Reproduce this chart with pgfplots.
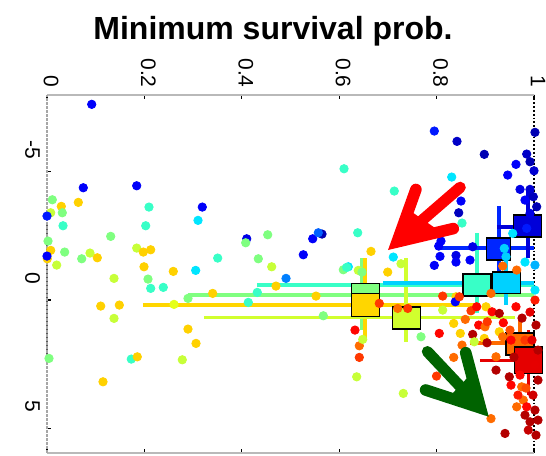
\documentclass[border=0pt]{standalone}
\usepackage{fontspec}
\setmainfont{Liberation Sans}
\usepackage{pgfplots}
\pgfplotsset{compat=1.18}
\usepackage{pgfplotstable}

\pgfplotstableread{
x y c
0.0918 -7.606 0.12
0.0745 -4.365 0.12
0.1842 -4.442 0.12
0.0109 -3.898 0.50
0.0294 -3.642 0.67
0.0643 -3.797 0.67
0.2094 -3.614 0.43
0.3189 -3.614 0.12
0.0076 -3.393 0.57
0.0314 -3.393 0.50
0.0000 -3.265 0.15
0.0329 -2.888 0.43
0.2027 -2.888 0.43
0.3101 -3.098 0.35
0.1308 -2.476 0.50
0.0021 -2.293 0.50
0.0076 -1.932 0.67
0.0363 -1.866 0.50
0.0883 -1.827 0.57
0.1033 -1.644 0.67
0.0713 -1.605 0.50
0.1842 -2.021 0.57
0.1977 -1.866 0.67
0.2129 -1.955 0.67
0.0006 -1.605 0.67
0.0000 -1.710 0.12
0.0199 -1.360 0.57
0.1992 -1.294 0.67
0.2593 -1.115 0.67
0.3053 -1.154 0.35
0.1376 -0.843 0.57
0.2074 -0.816 0.50
0.2129 -0.455 0.43
0.2388 -0.494 0.43
0.1103 0.233 0.67
0.1485 0.194 0.67
0.1376 0.711 0.57
0.2895 -0.066 0.50
0.2608 0.167 0.60
0.2895 1.127 0.67
0.3060 1.683 0.67
0.0041 2.266 0.50
0.1731 2.293 0.43
0.1854 2.204 0.67
0.2778 2.320 0.57
0.1150 3.175 0.67
0.6099 -5.103 0.43
0.4101 -2.382 0.10
0.4080 -2.227 0.50
0.4532 -2.538 0.50
0.5456 -2.382 0.12
0.5647 -2.565 0.05
0.5571 -2.616 0.22
0.5263 -1.761 0.12
0.3505 -1.632 0.43
0.4339 -1.605 0.50
0.4614 -1.294 0.57
0.6380 -2.616 0.43
0.6187 -1.294 0.35
0.6084 -1.178 0.50
0.6392 -1.154 0.57
0.4908 -0.843 0.25
0.4702 -0.544 0.67
0.3402 -0.260 0.67
0.4318 -0.299 0.43
0.5524 -0.155 0.67
0.4133 0.089 0.43
0.5674 0.610 0.50
0.6324 1.166 0.87
0.6413 1.776 0.77
0.6413 2.227 0.82
0.6359 2.981 0.57
0.6483 1.527 0.57
0.7953 -6.568 0.15
0.8419 -6.168 0.07
0.8979 -5.663 0.05
0.8310 -4.780 0.35
0.7131 -4.236 0.43
0.8501 -3.848 0.12
0.8454 -3.393 0.06
0.8522 -2.993 0.43
0.6653 -1.893 0.67
0.7111 -1.671 0.35
0.7269 -1.411 0.57
0.6996 -1.088 0.67
0.8070 -1.698 0.12
0.8398 -1.737 0.10
0.8398 -1.477 0.12
0.7953 -1.349 0.12
0.8090 -2.293 0.12
0.8043 -2.099 0.12
0.8741 -2.072 0.10
0.8686 -1.555 0.12
0.6468 -1.088 0.50
0.6154 -1.271 0.43
1.0020 -6.518 0.05
0.9850 -5.674 0.07
0.9918 -5.375 0.05
1.0000 -5.025 0.08
0.9630 -5.274 0.12
0.9460 -4.858 0.12
0.9713 -4.302 0.10
0.9918 -4.302 0.08
0.9986 -4.015 0.06
0.9815 -3.886 0.12
1.0055 -3.626 0.05
0.9918 -3.370 0.10
0.9850 -2.787 0.15
0.9390 -2.009 0.33
0.9425 -1.683 0.33
0.9563 -2.592 0.35
0.9357 -1.321 0.77
0.9117 -0.260 0.77
1.0020 -1.360 0.30
0.9815 -1.477 0.35
0.9645 -1.166 0.77
1.0020 -0.389 0.35
0.6823 0.128 0.82
0.7201 0.323 0.77
0.7407 0.323 0.82
0.8125 -0.155 0.82
0.8398 -0.128 0.67
0.8384 0.066 0.12
0.9014 0.260 0.67
0.7680 1.426 0.50
0.8055 1.294 0.87
0.7316 3.626 0.57
0.8351 0.906 0.67
0.8487 1.294 0.67
0.8741 1.333 0.95
0.8864 0.972 0.87
0.8589 0.750 0.77
0.8706 0.416 0.82
0.9138 0.455 0.87
0.9287 0.517 0.95
0.8979 1.489 0.67
0.9035 1.660 0.95
0.8774 1.621 0.57
0.8351 2.227 0.77
0.8522 1.749 0.77
0.7998 2.954 0.82
0.9220 2.721 0.95
0.9493 2.981 0.95
0.9117 4.605 0.77
0.9405 5.181 0.95
0.9528 3.304 0.87
0.9220 2.204 0.77
0.9589 2.215 0.95
0.9287 1.232 0.67
0.8994 1.038 0.77
0.9041 0.843 0.82
0.9370 0.882 0.87
0.9815 1.555 0.82
0.9747 3.370 0.77
0.9780 3.886 0.77
0.9815 4.469 0.95
0.9918 4.730 0.95
0.9883 5.052 0.93
0.9713 2.915 0.87
0.9850 4.147 0.87
0.9645 4.147 0.77
0.8823 0.260 0.87
0.8125 0.389 0.57
0.9630 0.260 0.87
0.9357 1.426 0.77
0.9528 1.555 0.87
0.8466 -0.128 0.82
0.9918 0.466 0.90
1.0041 0.972 0.95
0.9959 1.555 0.90
1.0082 1.943 0.95
1.0020 2.526 0.90
1.0082 3.109 0.95
0.9836 3.420 0.80
0.9979 3.692 0.92
1.0020 4.275 0.95
1.0041 5.247 0.95
0.9671 3.692 0.85
0.9754 0.700 0.95
0.9507 1.166 0.80
1.0020 0.000 0.85
1.0082 4.664 0.95
}\dots

\definecolor{jGreen}{rgb}{0.5,1,0.5}
\definecolor{jYellow}{rgb}{1,0.84,0}
\definecolor{jYG}{rgb}{0.82,1,0.18}
\definecolor{jAqua}{rgb}{0.22,1,0.78}
\definecolor{jCyan}{rgb}{0,0.82,1}
\definecolor{jBlue}{rgb}{0,0.15,1}
\definecolor{jDBlue}{rgb}{0,0,0.85}
\definecolor{jOrange}{rgb}{1,0.42,0}
\definecolor{jRed}{rgb}{0.9,0,0}
\definecolor{arrowgreen}{rgb}{0,0.39,0}

\begin{document}
\begin{tikzpicture}
\begin{axis}[
  at={(23.5pt,1.15pt)}, anchor=south west,
  scale only axis, width=243.5pt, height=179pt,
  xmin=0, xmax=1, ymin=-7.98, ymax=5.93, y dir=reverse,
  clip=false,
  axis line style={draw=none},
  colormap/jet, point meta min=0, point meta max=1,
  xtick={0,0.2,0.4,0.6,0.8,1},
  xticklabels={0,0.2,0.4,0.6,0.8,1},
  ytick={-5,0,5},
  yticklabels={-5,0,5},
  xticklabel pos=upper,
  xtick pos=both, ytick pos=left,
  tick align=inside,
  major tick length=2pt,
  tick style={black, line width=0.6pt},
  xticklabel style={rotate=-90, anchor=east, font=\fontsize{10.5}{12}\selectfont, yshift=2pt},
  yticklabel style={rotate=-90, anchor=north, font=\fontsize{10.5}{12}\selectfont, xshift=-11pt},
]
% reference line at 1 and at 0
\addplot[black, densely dotted, line width=0.9pt] coordinates {(1,-7.98) (1,5.93)};
\addplot[gray!70!black, line width=0.9pt] coordinates {(0,-2.9) (0,2.26)};
% error bars
\addplot[jGreen, line width=1.6pt] coordinates {(0.2895,-0.194) (1.0,-0.194)};
\addplot[jGreen, line width=1.6pt] coordinates {(0.6468,-1.632) (0.6468,1.166)};
\addplot[jYellow, line width=1.6pt] coordinates {(0.1971,0.194) (0.8768,0.194)};
\addplot[jYellow, line width=1.6pt] coordinates {(0.6530,-1.632) (0.6530,1.477)};
\addplot[jYG, line width=1.6pt] coordinates {(0.3224,0.661) (0.96,0.661)};
\addplot[jYG, line width=1.6pt] coordinates {(0.7372,-1.632) (0.7372,1.632)};
\addplot[jAqua, line width=1.6pt] coordinates {(0.4312,-0.583) (1.0,-0.583)};
\addplot[jAqua, line width=1.6pt] coordinates {(0.8830,-2.604) (0.8830,0.505)};
\addplot[jCyan, line width=1.6pt] coordinates {(0.690,-0.661) (1.0,-0.661)};
\addplot[jCyan, line width=1.6pt] coordinates {(0.9425,-1.555) (0.9425,0.194)};
\addplot[jBlue, line width=1.6pt] coordinates {(0.7988,-2.021) (1.0,-2.021)};
\addplot[jBlue, line width=1.6pt] coordinates {(0.9281,-3.653) (0.9281,-0.583)};
\addplot[jDBlue, line width=1.6pt] coordinates {(0.924,-2.837) (1.01,-2.837)};
\addplot[jDBlue, line width=1.6pt] coordinates {(0.9877,-4.275) (0.9877,-1.632)};
\addplot[jOrange, line width=1.6pt] coordinates {(0.8686,1.671) (1.0,1.671)};
\addplot[jOrange, line width=1.6pt] coordinates {(0.9713,0.700) (0.9713,2.798)};
\addplot[jRed, line width=1.6pt] coordinates {(0.889,2.332) (1.0,2.332)};
\addplot[jRed, line width=1.6pt] coordinates {(0.988,1.166) (0.988,3.692)};
% group means
\addplot[only marks, mark=square*, mark size=7pt, mark options={fill=jGreen, draw=black, line width=0.7pt, yscale=0.82}] coordinates {(0.6540,-0.194)};
\addplot[only marks, mark=square*, mark size=7pt, mark options={fill=jYellow, draw=black, line width=0.7pt, yscale=0.82}] coordinates {(0.6540,0.194)};
\addplot[only marks, mark=square*, mark size=7pt, mark options={fill=jYG, draw=black, line width=0.7pt, yscale=0.78}] coordinates {(0.7382,0.700)};
\addplot[only marks, mark=square*, mark size=7pt, mark options={fill=jAqua, draw=black, line width=0.7pt, yscale=0.78}] coordinates {(0.8830,-0.583)};
\addplot[only marks, mark=square*, mark size=7pt, mark options={fill=jCyan, draw=black, line width=0.7pt, yscale=0.76}] coordinates {(0.9435,-0.680)};
\addplot[only marks, mark=square*, mark size=7pt, mark options={fill=jDBlue, draw=black, line width=0.7pt, yscale=0.78}] coordinates {(0.9867,-2.876)};
\addplot[only marks, mark=square*, mark size=6pt, mark options={fill=jBlue, draw=black, line width=0.7pt, yscale=0.92}] coordinates {(0.9267,-1.982)};
\addplot[only marks, mark=square*, mark size=7pt, mark options={fill=jOrange, draw=black, line width=0.7pt, yscale=0.78}] coordinates {(0.9713,1.710)};
\addplot[only marks, mark=square*, mark size=7pt, mark options={fill=jRed, draw=black, line width=0.7pt, yscale=0.95}] coordinates {(0.9887,2.332)};
% individual values
\addplot[scatter, only marks, mark=*, mark size=2.1pt, scatter src=explicit,
  scatter/use mapped color={draw=mapped color, fill=mapped color}]
  table[x=x, y=y, meta=c] {\dots};
% axis frame
\draw[gray!55, line width=1pt] (rel axis cs:0,0) -- (rel axis cs:1,0);
\draw[gray!55, line width=1pt] (rel axis cs:0,1) -- (rel axis cs:1,1);
\draw[gray!70, line width=0.9pt, dash pattern=on 1.2pt off 0.8pt] (rel axis cs:0,0) -- (rel axis cs:0,1);
\end{axis}
\begin{scope}[x=0.5pt, y=-0.5pt, shift={(0pt,227.5pt)}]
\node[font=\fontsize{16}{19}\selectfont\bfseries] at (273,31) {Minimum survival prob.};
% red arrow
\draw[red, line width=5.6pt, line cap=round] (397.1,241.9) -- (460.2,187.3);
\fill[red] (397.1,241.9) -- (409,210) -- (438,230) -- cycle;
\draw[red, line width=5.8pt, line cap=round, line join=miter, miter limit=10] (415.9,189.5) -- (397.1,241.9) -- (453.3,228.6);
% green arrow
\draw[arrowgreen, line width=5.6pt, line cap=round] (480.4,407.9) -- (427.4,351.6);
\fill[arrowgreen] (480.4,407.9) -- (470,375) -- (450,396) -- cycle;
\draw[arrowgreen, line width=5.8pt, line cap=round, line join=miter, miter limit=10] (465.7,352.7) -- (480.4,407.9) -- (425.6,390);
\end{scope}
\pgfresetboundingbox
\useasboundingbox (0,0) rectangle (273pt,227.5pt);
\end{tikzpicture}
\end{document}
